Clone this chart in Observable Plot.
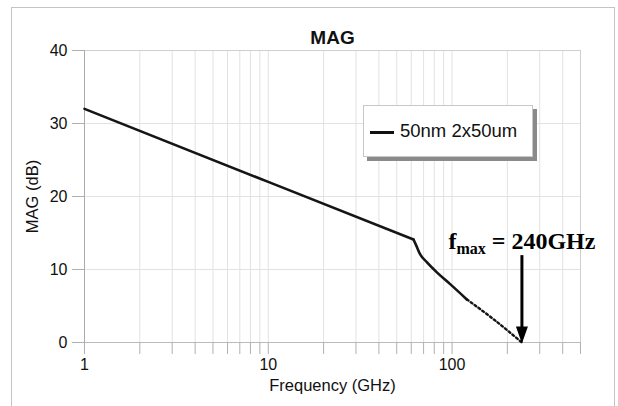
<!DOCTYPE html>
<html>
<head>
<meta charset="utf-8">
<script src="https://cdn.jsdelivr.net/npm/d3@7"></script>
<script src="https://cdn.jsdelivr.net/npm/@observablehq/plot@0.6"></script>
<style>
  html, body { margin: 0; padding: 0; background: #fff; }
  #wrap { position: relative; width: 618px; height: 406px; overflow: hidden; background: #fff; font-family: "Liberation Sans", Arial, sans-serif; }
  #border { position: absolute; left: 11px; top: 7px; width: 602px; height: 430px; border: 1.5px solid #c4c4c4; pointer-events: none; }
  #legend { position: absolute; left: 363px; top: 105px; width: 168px; height: 50px; background: #fff; border: 1px solid #c8c8c8; box-shadow: 4px 4px 0 #8a8a8a; }
  #legend .sw { position: absolute; left: 6px; top: 25px; width: 24px; height: 2.5px; background: #111; }
  #legend .lb { position: absolute; left: 36px; top: 14px; font-size: 18.5px; line-height: 22px; color: #111; white-space: nowrap; }
</style>
</head>
<body>
<div id="wrap"></div>
<script>
// ---- data ----
const freqSolid = [1, 10, 61.7, 63.8, 67, 72.9, 82.7, 97.7, 120.4];
const magSolid  = [32, 22.0, 14.1, 13.3, 12.1, 11.0, 9.6, 8.0, 5.9];
const freqDotted = [120.4, 168, 240];
const magDotted  = [5.9, 3.2, 0];
const kinkFreq = 61.7;
const xTicks = [1,2,3,4,5,6,7,8,9,10,20,30,40,50,60,70,80,90,100,200,300,400,500];
const xTickLabels = [1, 10, 100, 500];
const yTicks = [0, 10, 20, 30, 40];
const titleText = "MAG";
const xLabel = "Frequency (GHz)";
const yLabel = "MAG (dB)";
const legendLabel = "50nm 2x50um";
const fmaxValue = 240;
const arrowTop = 11.9;
const annotY = 12.8;
const annotParts = ["f", "max", " = 240GHz"];

const solid = freqSolid.map((f, i) => ({f, m: magSolid[i]}));
const dotted = freqDotted.map((f, i) => ({f, m: magDotted[i]}));

const arrowHead = {
  draw(ctx) {
    ctx.moveTo(0, 1);
    ctx.lineTo(-6, -16);
    ctx.lineTo(6, -16);
    ctx.closePath();
  }
};

const svg = Plot.plot({
  width: 618,
  height: 406,
  marginLeft: 84,
  marginRight: 38,
  marginTop: 50,
  marginBottom: 64,
  style: {fontFamily: "'Liberation Sans', Arial, sans-serif", fontSize: "16px", background: "transparent", color: "#111"},
  x: {type: "log", domain: [1, 500]},
  y: {domain: [0, 40]},
  marks: [
    Plot.ruleX(xTicks, {stroke: "#e2e2e2", strokeWidth: 1}),
    Plot.ruleY(yTicks.filter(v => v > 0 && v < 40), {stroke: "#e2e2e2", strokeWidth: 1}),
    Plot.ruleY([40], {stroke: "#cfcfcf"}),
    Plot.ruleX([500], {stroke: "#cfcfcf"}),
    Plot.ruleX([1], {stroke: "#aaaaaa"}),
    Plot.ruleY([0], {stroke: "#bbbbbb"}),
    Plot.axisX({ticks: xTicks, tickSize: 12, tickPadding: 4, stroke: "#b0b0b0", fill: "#111", fontSize: 16,
      tickFormat: d => xTickLabels.includes(d) ? String(d) : "", label: null}),
    Plot.axisY({ticks: yTicks, tickSize: 12, tickPadding: 5, stroke: "#b0b0b0", fill: "#111", fontSize: 16, label: null}),
    Plot.text([titleText], {frameAnchor: "top", lineAnchor: "middle", dy: -13, fontWeight: "bold", fontSize: 19, fill: "#111"}),
    Plot.text([xLabel], {frameAnchor: "bottom", lineAnchor: "middle", dy: 43, fontSize: 16.5, fill: "#111"}),
    Plot.text([yLabel], {frameAnchor: "left", textAnchor: "middle", lineAnchor: "middle", dx: -52, rotate: -90, fontSize: 16.5, fill: "#111"}),
    Plot.line(solid.filter(d => d.f <= kinkFreq), {x: "f", y: "m", stroke: "#151515", strokeWidth: 2.6}),
    Plot.line(solid.filter(d => d.f >= kinkFreq), {x: "f", y: "m", stroke: "#151515", strokeWidth: 2.6, curve: "monotone-x"}),
    Plot.line(dotted, {x: "f", y: "m", stroke: "#151515", strokeWidth: 2.4, strokeDasharray: "2,2.8", curve: "monotone-x"}),
    Plot.ruleX([fmaxValue], {y1: arrowTop, y2: 1.5, stroke: "#000", strokeWidth: 3}),
    Plot.dot([fmaxValue], {x: d => d, y: () => 0, symbol: arrowHead, fill: "#000", stroke: "none", r: 5}),
    Plot.text([annotParts.join("")], {x: () => fmaxValue, y: () => annotY, lineAnchor: "bottom", textAnchor: "middle",
      fontFamily: "'Liberation Serif', 'Times New Roman', serif", fontWeight: "bold", fontSize: 24, fill: "#000"})
  ]
});

d3.select(svg).selectAll("text").filter(function() { return this.textContent === annotParts.join(""); })
  .each(function() {
    const t = d3.select(this);
    t.text(null);
    t.append("tspan").text(annotParts[0]);
    t.append("tspan").attr("font-size", "16px").attr("dy", "5").text(annotParts[1]);
    t.append("tspan").attr("dy", "-5").text(annotParts[2]);
  });

const wrap = document.getElementById("wrap");
wrap.appendChild(svg);
const legend = document.createElement("div");
legend.id = "legend";
legend.innerHTML = '<div class="sw"></div><div class="lb"></div>';
legend.querySelector(".lb").textContent = legendLabel;
wrap.appendChild(legend);
const border = document.createElement("div");
border.id = "border";
wrap.appendChild(border);
</script>
</body>
</html>
